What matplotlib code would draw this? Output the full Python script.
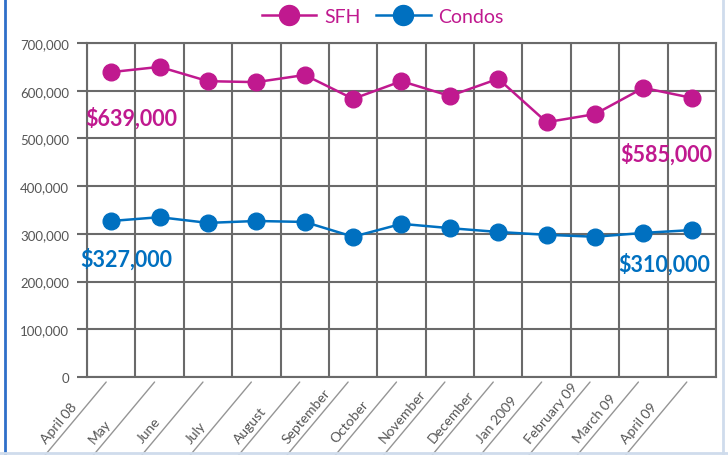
import matplotlib
matplotlib.use("Agg")
import matplotlib.pyplot as plt
from matplotlib.lines import Line2D
from matplotlib.transforms import offset_copy
from matplotlib.ticker import MultipleLocator, FuncFormatter

months = ["April 08", "May", "June", "July", "August", "September", "October",
          "November", "December", "Jan 2009", "February 09", "March 09", "April 09"]
sfh = [639000, 650000, 620000, 618000, 633000, 583000, 620000,
       589000, 625000, 534000, 551000, 606000, 585000]
condos = [327000, 335000, 323000, 327000, 325000, 294000, 321000,
          312000, 304000, 298000, 294000, 302000, 308000]
sfh_labels = ["$639,000", "$585,000"]
condo_labels = ["$327,000", "$310,000"]

sfhColor = "#C0198F"
condoColor = "#0070C0"
gridColor = "#6a6a6a"
textColor = "#555555"

plt.rcParams["font.family"] = ["Lato", "DejaVu Sans"]

figure = plt.figure(figsize=(7.28, 4.56), dpi=100)
axis = figure.add_axes([0.1195, 0.171, 0.864, 0.7325])

xs = list(range(len(months)))
axis.plot(xs, sfh, color=sfhColor, linewidth=1.8, marker="o", markersize=12,
          label="SFH", zorder=3)
axis.plot(xs, condos, color=condoColor, linewidth=1.8, marker="o", markersize=12,
          label="Condos", zorder=3)

# Axis limits; categories sit between the vertical grid lines
axis.set_xlim(-0.5, len(months) - 0.5)
axis.set_ylim(0, 700000)
axis.yaxis.set_major_locator(MultipleLocator(100000))
axis.yaxis.set_major_formatter(FuncFormatter(lambda v, p: f"{int(v):,}"))
axis.set_xticks([x - 0.5 for x in range(len(months) + 1)])
axis.set_xticklabels([])
axis.tick_params(axis="x", length=0)
axis.tick_params(axis="y", length=7, width=1.5, color=gridColor, labelsize=9.5,
                 labelcolor=textColor, pad=6)
axis.grid(True, color=gridColor, linewidth=1.5)
axis.set_axisbelow(True)
for spine in axis.spines.values():
    spine.set_color(gridColor)
    spine.set_linewidth(1.5)

# Rotated month labels sitting on diagonal leader lines
leaderTop = offset_copy(axis.get_xaxis_transform(), fig=figure, x=-5, y=-5, units="dots")
for i, month in enumerate(months):
    axis.annotate("", xy=(i, 0), xycoords=leaderTop,
                  xytext=(-46, -55), textcoords="offset points",
                  arrowprops=dict(arrowstyle="-", color="#959595", linewidth=1.0,
                                  shrinkA=0, shrinkB=0),
                  annotation_clip=False)
    axis.annotate(month, xy=(i, 0), xycoords=leaderTop,
                  xytext=(-42, -45), textcoords="offset points",
                  rotation=50, rotation_mode="anchor", ha="left", va="bottom",
                  fontsize=10, color=textColor, annotation_clip=False)

# Start and end value callouts
axis.annotate(sfh_labels[0], xy=(0, sfh[0]), xytext=(-19, -33), textcoords="offset points",
              ha="left", va="center", fontsize=15.5, fontweight="bold", color=sfhColor)
axis.annotate(sfh_labels[1], xy=(xs[-1], sfh[-1]), xytext=(15, -40), textcoords="offset points",
              ha="right", va="center", fontsize=15.5, fontweight="bold", color=sfhColor)
axis.annotate(condo_labels[0], xy=(0, condos[0]), xytext=(-22, -27), textcoords="offset points",
              ha="left", va="center", fontsize=15.5, fontweight="bold", color=condoColor)
axis.annotate(condo_labels[1], xy=(xs[-1], condos[-1]), xytext=(13, -24), textcoords="offset points",
              ha="right", va="center", fontsize=15.5, fontweight="bold", color=condoColor)

legend = figure.legend(loc="center", bbox_to_anchor=(0.526, 0.962), ncol=2, frameon=False,
                       fontsize=14, handlelength=2.8, columnspacing=0.8, handletextpad=0.4,
                       markerscale=1.2)
for text in legend.get_texts():
    text.set_color(sfhColor)

# Frame lines around the figure
figure.add_artist(Line2D([0.007, 0.007], [0, 1], transform=figure.transFigure,
                         color="#2f6fc9", linewidth=2))
figure.add_artist(Line2D([0.993, 0.993], [0, 1], transform=figure.transFigure,
                         color="#cfdcec", linewidth=2))
figure.add_artist(Line2D([0, 1], [0.004, 0.004], transform=figure.transFigure,
                         color="#cfdcec", linewidth=2))

figure.savefig("out.png", dpi=100)
